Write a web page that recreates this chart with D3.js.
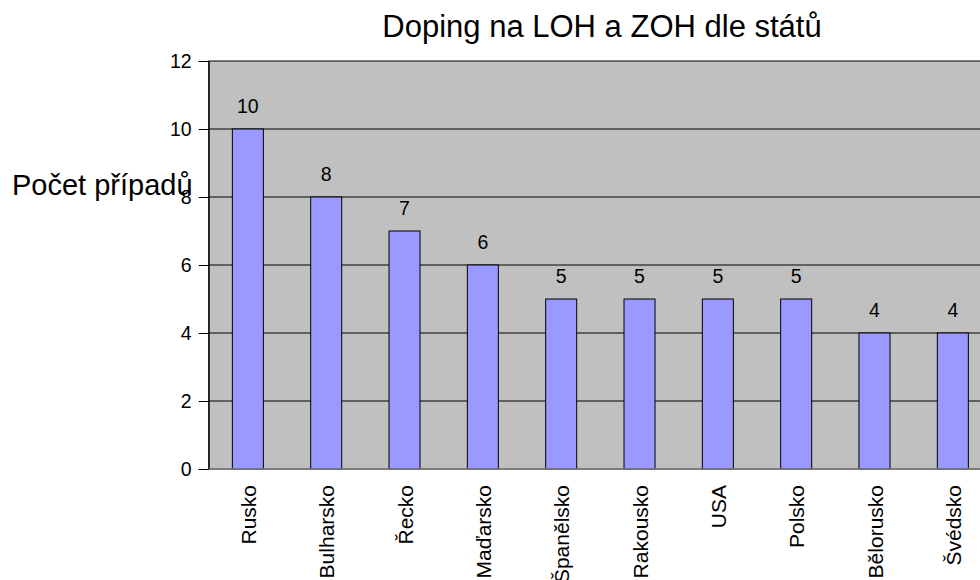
<!DOCTYPE html>
<html>
<head>
<meta charset="utf-8">
<script src="https://cdn.jsdelivr.net/npm/d3@7"></script>
<style>
	body { margin: 0; background: #fff; }
	svg { display: block; font-family: "Liberation Sans", Arial, sans-serif; }
</style>
</head>
<body>
<svg id="chart" width="980" height="580"></svg>
<script>
	const states = ['Rusko', 'Bulharsko', 'Řecko', 'Maďarsko', 'Španělsko', 'Rakousko', 'USA', 'Polsko', 'Bělorusko', 'Švédsko'];
	const cases = [10, 8, 7, 6, 5, 5, 5, 5, 4, 4];
	const yTicks = [0, 2, 4, 6, 8, 10, 12];

	(function() {
		const svg = d3.select('#chart');
		const plotLeft = 208.7, plotTop = 61, plotBottom = 469, plotRight = 992;

		const x = d3.scaleBand()
			.domain(states)
			.range([plotLeft, plotRight])
			.paddingInner(0.604)
			.paddingOuter(0.302);

		const y = d3.scaleLinear()
			.domain([0, 12])
			.range([plotBottom, plotTop]);

		// plot area
		svg.append('rect')
			.attr('x', plotLeft).attr('y', plotTop)
			.attr('width', plotRight - plotLeft).attr('height', plotBottom - plotTop)
			.attr('fill', '#c0c0c0')
			.attr('stroke', '#000').attr('stroke-width', 1);

		// gridlines
		svg.append('g')
			.selectAll('line')
			.data(yTicks.filter(d => d > 0 && d < 12))
			.enter().append('line')
			.attr('x1', plotLeft).attr('x2', plotRight)
			.attr('y1', d => y(d)).attr('y2', d => y(d))
			.attr('stroke', '#000').attr('stroke-width', 1);

		// bars
		svg.append('g')
			.selectAll('rect')
			.data(states)
			.enter().append('rect')
			.attr('x', d => x(d))
			.attr('y', (d, i) => y(cases[i]))
			.attr('width', x.bandwidth())
			.attr('height', (d, i) => plotBottom - y(cases[i]))
			.attr('fill', '#9999ff')
			.attr('stroke', '#000').attr('stroke-width', 1);

		// value labels
		svg.append('g')
			.selectAll('text')
			.data(states)
			.enter().append('text')
			.attr('x', d => x(d) + x.bandwidth() / 2)
			.attr('y', (d, i) => y(cases[i]) - 16)
			.attr('text-anchor', 'middle')
			.attr('font-size', 19.5)
			.text((d, i) => cases[i]);

		// y axis
		const yAxis = svg.append('g')
			.attr('transform', 'translate(' + plotLeft + ',0)')
			.call(d3.axisLeft(y).tickValues(yTicks).tickSize(10).tickPadding(7));
		yAxis.select('.domain').attr('stroke', '#000');
		yAxis.selectAll('text').attr('font-size', 19.5).attr('fill', '#000')
			.attr('font-family', '"Liberation Sans", Arial, sans-serif');

		// x axis baseline
		svg.append('line')
			.attr('x1', plotLeft).attr('x2', plotRight)
			.attr('y1', plotBottom).attr('y2', plotBottom)
			.attr('stroke', '#808080').attr('stroke-width', 1.5);

		// category labels
		svg.append('g')
			.selectAll('text')
			.data(states)
			.enter().append('text')
			.attr('transform', d => 'translate(' + (x(d) + x.bandwidth() / 2 + 8) + ',485) rotate(-90)')
			.attr('text-anchor', 'end')
			.attr('font-size', 21)
			.text(d => d);

		// titles
		svg.append('text')
			.attr('x', 602).attr('y', 37)
			.attr('text-anchor', 'middle')
			.attr('font-size', 31)
			.text('Doping na LOH a ZOH dle států');

		svg.append('text')
			.attr('x', 12).attr('y', 195)
			.attr('font-size', 29)
			.text('Počet případů');
	})();
</script>
</body>
</html>
